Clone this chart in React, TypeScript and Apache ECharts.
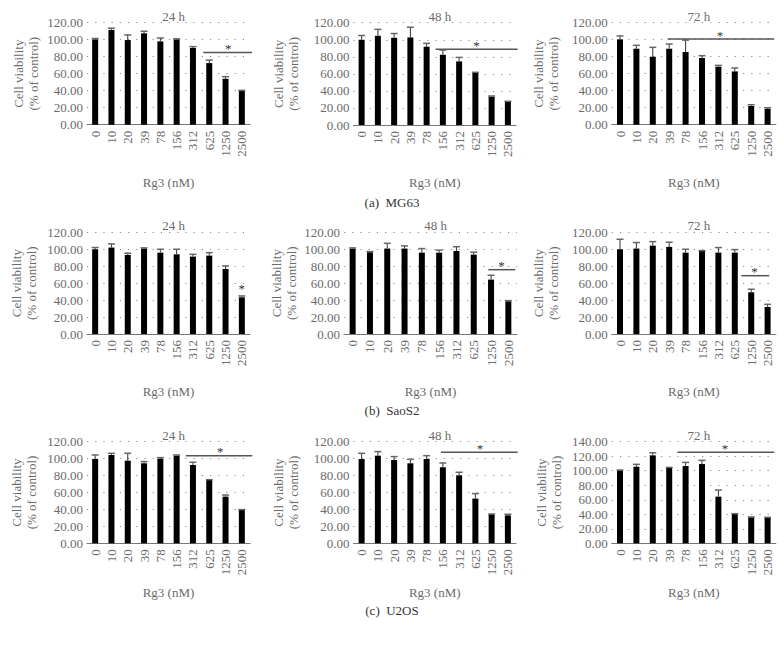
import React, { useEffect, useRef } from "react";
import * as echarts from "echarts";

const doses = ["0", "10", "20", "39", "78", "156", "312", "625", "1250", "2500"];
const timeLabels = ["24 h", "48 h", "72 h"];
const cellCaptions = ["(a)  MG63", "(b)  SaoS2", "(c)  U2OS"];

// MG63
const mg63_24 = [100.4, 111.5, 99.6, 107.5, 98, 100.4, 90.2, 72.5, 54, 39.6];
const mg63_24Err = [1, 2, 6, 2.5, 4, 0.6, 1.6, 3.5, 2.5, 0.8];
const mg63_48 = [100, 104.7, 102.3, 102.7, 91.8, 82.4, 74.6, 61.3, 33.2, 27.3];
const mg63_48Err = [5, 7.5, 5, 12, 4, 5.5, 4.7, 0.5, 0.8, 0.5];
const mg63_72 = [100.4, 89.4, 80, 89.4, 85.5, 78.4, 68.2, 62.7, 22, 18.8];
const mg63_72Err = [4, 4, 11, 5.5, 14, 2.8, 1.6, 4, 1.5, 1.2];
// SaoS2
const saos2_24 = [100, 102, 93.3, 100.8, 96, 94, 91.3, 92.5, 76.8, 43.3];
const saos2_24Err = [2, 4.3, 2, 0.8, 4, 6, 2.7, 3.5, 3.5, 1.6];
const saos2_48 = [100.8, 96.5, 100.8, 100.8, 96, 96, 98, 93.7, 64.2, 38.6];
const saos2_48Err = [0.8, 0.8, 6.2, 3.2, 4.8, 3, 5, 2.8, 5.1, 0.8];
const saos2_72 = [100, 100.8, 104.3, 102.8, 96, 98, 96, 96, 49.2, 31.9];
const saos2_72Err = [11.8, 7.1, 4.7, 5.5, 4, 0.4, 6, 3.6, 3.6, 3.1];
// U2OS
const u2os_24 = [99.6, 104.3, 97.6, 94.5, 100, 103.5, 92.5, 74.8, 55.1, 39.4];
const u2os_24Err = [4.7, 2, 8.7, 2, 1.2, 0.8, 3.2, 0.4, 1.9, 0.4];
const u2os_48 = [99.6, 103.5, 98.4, 94.5, 99.6, 89.8, 80.3, 52.8, 34.3, 33];
const u2os_48Err = [6.7, 4.8, 4, 4.7, 3.9, 5.1, 3.6, 5.9, 0.3, 1.3];
const u2os_72 = [100.5, 105.5, 121.2, 104.2, 106.5, 109.2, 64.3, 40.4, 35.8, 34.9];
const u2os_72Err = [0.5, 3.3, 3.6, 0.4, 5, 5.1, 9.1, 0.4, 0.5, 0.9];

// significance brackets: [start (category units), end, height value, star position]
const mg63_24Sig = [6.63, 9.63, 85, 8.16];
const mg63_48Sig = [4.55, 9.6, 89, 7.07];
const mg63_72Sig = [2.9, 9.4, 100.8, 6.1];
const saos2_24Sig = [9, 9, 49.5, 9];
const saos2_48Sig = [7.84, 9.4, 75.9, 8.6];
const saos2_72Sig = [7.4, 9.1, 68.8, 8.2];
const u2os_24Sig = [5.56, 9.64, 103.5, 7.67];
const u2os_48Sig = [4.88, 9.6, 107.5, 7.28];
const u2os_72Sig = [3.5, 9.4, 125.4, 6.4];

const yMaxes = [120, 120, 120, 120, 120, 120, 120, 120, 140];

const panelMeans = [mg63_24, mg63_48, mg63_72, saos2_24, saos2_48, saos2_72, u2os_24, u2os_48, u2os_72];
const panelErrs = [mg63_24Err, mg63_48Err, mg63_72Err, saos2_24Err, saos2_48Err, saos2_72Err, u2os_24Err, u2os_48Err, u2os_72Err];
const panelSigs = [mg63_24Sig, mg63_48Sig, mg63_72Sig, saos2_24Sig, saos2_48Sig, saos2_72Sig, u2os_24Sig, u2os_48Sig, u2os_72Sig];

// layout: [left, top, width, height, yNameGap, xNameGap]
const layout = [
  [87, 22.7, 163, 102, 46.5, 51],
  [353.5, 22.7, 162.5, 102.3, 52.7, 51],
  [611.8, 22.7, 164, 102, 51, 51],
  [87, 232.3, 163, 101.7, 48, 51],
  [344, 232.3, 173, 101.7, 45, 51],
  [611.8, 232.3, 164, 101.7, 51, 51],
  [87, 441.7, 163, 101.6, 48, 43],
  [353.5, 441.7, 162.5, 101.6, 53, 43],
  [611.8, 441.7, 164, 101.6, 48, 43],
];
const captionY = [202, 410, 610];

const FONT = '"Liberation Serif", "Times New Roman", serif';
const GREY = "#6b6b6b";

export default function App() {
  const ref = useRef<HTMLDivElement>(null);
  useEffect(() => {
    if (!ref.current) return;
    const chart = echarts.init(ref.current, undefined, { renderer: "svg" });

    const grid: any[] = [];
    const xAxis: any[] = [];
    const yAxis: any[] = [];
    const series: any[] = [];
    const title: any[] = [];

    layout.forEach((l, k) => {
      const [left, top, width, height, yGap, xGap] = l;
      grid.push({ left, top, width, height });
      title.push({
        text: timeLabels[k % 3],
        left: left + width / 2,
        top: top - 18,
        textAlign: "center",
        textStyle: { fontFamily: FONT, fontSize: 13, fontWeight: "normal", color: GREY },
      });
      xAxis.push({
        type: "category",
        gridIndex: k,
        data: doses,
        name: "Rg3 (nM)",
        nameLocation: "middle",
        nameGap: xGap,
        nameTextStyle: { fontFamily: FONT, fontSize: 13, color: GREY },
        axisLine: { lineStyle: { color: "#777", width: 1.2 } },
        axisTick: { alignWithLabel: true, length: 3, lineStyle: { color: "#777" } },
        axisLabel: { rotate: 90, interval: 0, margin: 6, fontFamily: FONT, fontSize: 13, color: GREY },
      });
      yAxis.push({
        type: "value",
        gridIndex: k,
        min: 0,
        max: yMaxes[k],
        interval: 20,
        name: "Cell viability\n(% of control)",
        nameLocation: "middle",
        nameGap: yGap,
        nameTextStyle: { fontFamily: FONT, fontSize: 13, color: GREY, lineHeight: 15 },
        axisLine: { show: false },
        axisTick: { show: false },
        axisLabel: {
          margin: 4,
          fontFamily: FONT,
          fontSize: 13,
          color: GREY,
          formatter: (v: number) => v.toFixed(2),
        },
        splitLine: { lineStyle: { color: "#8a8a8a", type: [1.2, 7], width: 1 } },
      });
      series.push({
        type: "bar",
        xAxisIndex: k,
        yAxisIndex: k,
        data: panelMeans[k],
        barWidth: 6,
        itemStyle: { color: "#000" },
        z: 2,
      });
      series.push({
        type: "custom",
        xAxisIndex: k,
        yAxisIndex: k,
        z: 3,
        clip: false,
        itemStyle: { color: "#444" },
        data: panelMeans[k].map((m, i) => [i, m, panelErrs[k][i]]),
        renderItem: (params: any, api: any) => {
          const i = api.value(0);
          const m = api.value(1);
          const e = api.value(2);
          const base = api.coord([i, m]);
          const tp = api.coord([i, m + e]);
          const hw = 3.5;
          return {
            type: "group",
            children: [
              {
                type: "line",
                shape: { x1: tp[0], y1: base[1], x2: tp[0], y2: tp[1] },
                style: { stroke: "#333", lineWidth: 1 },
              },
              {
                type: "line",
                shape: { x1: tp[0] - hw, y1: tp[1], x2: tp[0] + hw, y2: tp[1] },
                style: { stroke: "#666", lineWidth: 1.5 },
              },
            ],
          };
        },
      });
      const s = panelSigs[k];
      series.push({
        type: "custom",
        xAxisIndex: k,
        yAxisIndex: k,
        z: 4,
        clip: false,
        itemStyle: { color: "#333" },
        data: [[0, s[2], s[0], s[1], s[3]]],
        renderItem: (params: any, api: any) => {
          const yv = api.value(1);
          const st = api.value(2);
          const en = api.value(3);
          const sp = api.value(4);
          const p = api.coord([0, yv]);
          const bw = api.size([1, 0])[0];
          const children: any[] = [];
          if (en > st) {
            children.push({
              type: "line",
              shape: { x1: p[0] + st * bw, y1: p[1], x2: p[0] + en * bw, y2: p[1] },
              style: { stroke: "#555", lineWidth: 1.5 },
            });
          }
          children.push({
            type: "text",
            x: p[0] + sp * bw,
            y: p[1] - 4,
            style: {
              text: "*",
              fill: "#333",
              fontFamily: FONT,
              fontSize: 13,
              align: "center",
              verticalAlign: "middle",
            },
          });
          return { type: "group", children };
        },
      });
    });

    const graphic = cellCaptions.map((c, r) => ({
      type: "text",
      x: 392,
      y: captionY[r],
      style: {
        text: c,
        fill: "#333",
        fontFamily: FONT,
        fontSize: 13,
        align: "center",
        verticalAlign: "middle",
      },
    }));

    chart.setOption({
      animation: false,
      textStyle: { fontFamily: FONT },
      title,
      grid,
      xAxis,
      yAxis,
      series,
      graphic,
    });
    return () => chart.dispose();
  }, []);
  return (
    <div
      ref={ref}
      style={{ position: "absolute", left: 0, top: 0, width: 784, height: 645, background: "#fff" }}
    />
  );
}
